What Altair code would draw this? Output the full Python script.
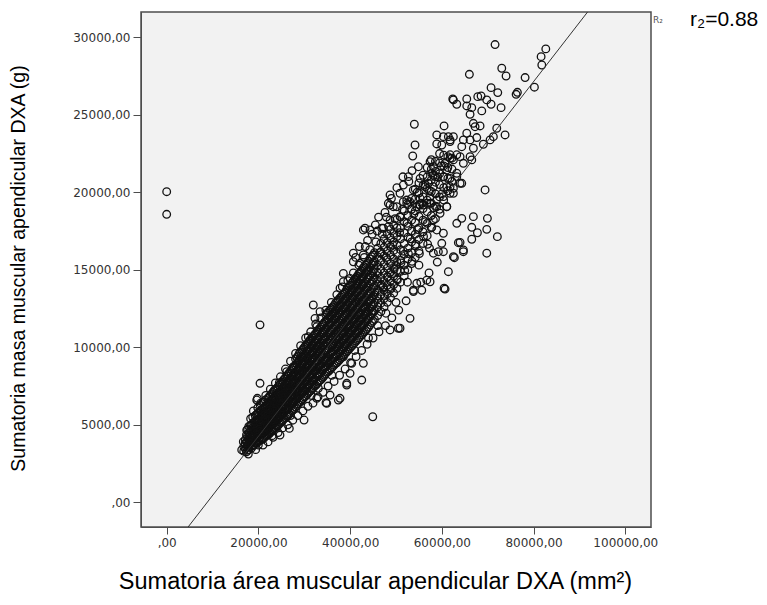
import altair as alt
import pandas as pd

# ---------------- data ----------------
# dense core of the cloud: (area mm2, [mass g ...])
core_columns = [
    (16800, [3300, 3600]),
    (17400, [3250, 3550, 3900, 4350]),
    (17900, [3400, 3750, 4100, 4500, 4900]),
    (18500, [3500, 3850, 4200, 4600, 5000]),
    (19000, [3700, 4050, 4400, 4750, 5150]),
    (19600, [3800, 4150, 4500, 4900, 5300, 5650]),
    (20100, [3950, 4300, 4650, 5000, 5400, 5800]),
    (20700, [4050, 4400, 4800, 5150, 5550, 5950]),
    (21200, [4150, 4500, 4900, 5300, 5700, 6100, 6500]),
    (21800, [4300, 4700, 5050, 5450, 5850, 6250]),
    (22300, [4400, 4800, 5200, 5600, 6000, 6400, 6800]),
    (22900, [4600, 5000, 5400, 5800, 6200, 6600, 7000]),
    (23400, [4750, 5150, 5550, 5950, 6350, 6750, 7200]),
    (24000, [4900, 5300, 5700, 6100, 6500, 6900, 7350]),
    (24500, [5050, 5450, 5850, 6300, 6700, 7100, 7550]),
    (25100, [5200, 5650, 6050, 6450, 6900, 7300, 7750]),
    (25600, [5400, 5800, 6250, 6650, 7100, 7500, 7950]),
    (26200, [5550, 6000, 6400, 6850, 7250, 7700, 8150]),
    (26700, [5700, 6150, 6600, 7000, 7450, 7900, 8350]),
    (27300, [5900, 6350, 6800, 7200, 7650, 8100, 8550]),
    (27800, [6050, 6500, 6950, 7400, 7850, 8300, 8750]),
    (28400, [6250, 6700, 7150, 7600, 8050, 8500, 8950, 9350]),
    (28900, [6450, 6900, 7350, 7800, 8250, 8700, 9150, 9600]),
    (29500, [6600, 7050, 7500, 7950, 8450, 8900, 9350, 9800]),
    (30000, [6800, 7250, 7700, 8150, 8600, 9050, 9500, 10000]),
    (30600, [6950, 7400, 7900, 8350, 8800, 9250, 9750, 10200]),
    (31100, [7150, 7600, 8050, 8500, 9000, 9450, 9900, 10400]),
    (31700, [7300, 7800, 8250, 8700, 9200, 9650, 10100, 10600]),
    (32200, [7500, 7950, 8450, 8900, 9350, 9850, 10300, 10800]),
    (32800, [7650, 8150, 8600, 9100, 9550, 10050, 10500, 11000]),
    (33300, [7850, 8300, 8800, 9250, 9750, 10200, 10700, 11200]),
    (33900, [8000, 8500, 8950, 9450, 9950, 10400, 10900, 11400]),
    (34400, [8200, 8700, 9150, 9650, 10150, 10600, 11100, 11600]),
    (35000, [8400, 8850, 9350, 9850, 10300, 10800, 11300, 11800, 12200]),
    (35600, [8550, 9050, 9550, 10000, 10500, 11000, 11500, 11950, 12400]),
    (36200, [8750, 9250, 9750, 10200, 10700, 11200, 11700, 12150, 12600]),
    (36800, [8950, 9450, 9900, 10400, 10900, 11400, 11900, 12350, 12850]),
    (37400, [9100, 9600, 10100, 10600, 11100, 11600, 12100, 12550, 13050]),
    (38000, [9300, 9800, 10300, 10800, 11300, 11800, 12300, 12750, 13250]),
    (38600, [9500, 10000, 10500, 11000, 11500, 12000, 12500, 13000, 13450]),
    (39200, [9700, 10200, 10700, 11200, 11700, 12200, 12700, 13200, 13700]),
    (39800, [9900, 10400, 10900, 11400, 11900, 12400, 12900, 13400, 13900]),
    (40400, [10100, 10600, 11100, 11650, 12150, 12650, 13150, 13650, 14150]),
    (41000, [10300, 10800, 11300, 11850, 12350, 12850, 13350, 13850, 14400]),
    (41600, [10500, 11000, 11550, 12050, 12550, 13100, 13600, 14100, 14600]),
    (42200, [10700, 11250, 11750, 12250, 12800, 13300, 13800, 14350, 14850]),
    (42800, [10900, 11450, 11950, 12500, 13000, 13500, 14050, 14550, 15100]),
    (43400, [11100, 11650, 12150, 12700, 13200, 13750, 14250, 14800, 15300]),
    (44000, [11300, 11850, 12400, 12900, 13450, 13950, 14500, 15000, 15550]),
    (44700, [11600, 12150, 12650, 13200, 13750, 14250, 14800, 15350, 15850]),
    (45300, [11800, 12350, 12900, 13400, 13950, 14500, 15050, 15550, 16100]),
    (46000, [12050, 12600, 13150, 13700, 14250, 14800, 15300, 15850, 16400]),
    (46700, [12300, 12850, 13400, 13950, 14500, 15050, 15600, 16150, 16700]),
    (47400, [12600, 13150, 13700, 14250, 14800, 15350, 15900, 16450, 17000]),
    (48100, [12900, 13450, 14000, 14550, 15100, 15650, 16200, 16750, 17300]),
    (48800, [13200, 13750, 14300, 14850, 15400, 15950, 16500, 17050, 17600]),
    (49500, [13500, 14050, 14600, 15150, 15700, 16250, 16800, 17350, 17900]),
    (50200, [13800, 14400, 14950, 15500, 16050, 16600, 17150, 17700, 18250]),
    (51000, [14200, 14900, 15600, 16300, 17000, 17700, 18400]),
    (51800, [14600, 15300, 16000, 16700, 17400, 18100, 18800]),
    (52600, [15000, 15700, 16400, 17100, 17800, 18500, 19200]),
    (53400, [15400, 16100, 16800, 17500, 18200, 18900, 19600]),
    (54200, [15800, 16550, 17300, 18050, 18800, 19550, 20200]),
    (55000, [16200, 16950, 17700, 18450, 19200, 19950, 20600]),
    (55900, [16700, 17450, 18200, 18950, 19700, 20450, 21100]),
    (56800, [17200, 18000, 18750, 19500, 20250, 21000, 21600]),
    (57700, [17700, 18500, 19300, 20050, 20800, 21500, 22100]),
    (58600, [18300, 19100, 19900, 20650, 21350, 22000]),
    (59500, [18900, 19700, 20500, 21200, 21900, 22500]),
    (60400, [19500, 20300, 21000, 21700, 22400]),
    (61300, [20100, 20900, 21600, 22300]),
    (62200, [20700, 21500, 22200]),
]

# the darkest part of the cloud holds many more overlapping points
dark_core_columns = [
    (17150, [3450, 3750, 4050]),
    (17650, [3350, 3700, 4000, 4300, 4700]),
    (18250, [3600, 3950, 4250, 4650, 4950]),
    (18750, [3650, 4000, 4350, 4700, 5100, 5500]),
    (19300, [3850, 4200, 4550, 4900, 5250, 5600]),
    (19850, [3900, 4250, 4600, 5000, 5350, 5750, 6100]),
    (20400, [4000, 4350, 4750, 5100, 5500, 5900, 6250]),
    (20950, [4100, 4500, 4850, 5250, 5650, 6050, 6450]),
    (21500, [4250, 4600, 5000, 5400, 5800, 6200, 6600]),
    (22050, [4350, 4750, 5150, 5550, 5950, 6350, 6700]),
    (22600, [4500, 4900, 5300, 5700, 6100, 6500, 6900]),
    (23150, [4650, 5050, 5450, 5850, 6250, 6650, 7100]),
    (23700, [4800, 5200, 5650, 6050, 6450, 6850, 7300]),
    (24250, [4950, 5400, 5800, 6200, 6600, 7050, 7450]),
    (24800, [5150, 5550, 5950, 6400, 6800, 7200, 7650]),
    (25350, [5300, 5750, 6150, 6550, 7000, 7400, 7850]),
    (25900, [5450, 5900, 6300, 6750, 7150, 7600, 8050]),
    (26450, [5600, 6050, 6500, 6900, 7350, 7800, 8250]),
    (27000, [5800, 6250, 6700, 7100, 7550, 8000, 8450]),
    (27550, [5950, 6400, 6850, 7300, 7750, 8200, 8650]),
    (28100, [6150, 6600, 7050, 7500, 7950, 8400, 8850, 9250]),
    (28650, [6350, 6800, 7250, 7700, 8150, 8600, 9050, 9450]),
    (29200, [6500, 6950, 7400, 7850, 8350, 8800, 9250, 9700]),
    (29750, [6700, 7150, 7600, 8050, 8500, 8950, 9450, 9900]),
    (30300, [6850, 7350, 7800, 8250, 8700, 9150, 9600, 10100]),
    (30850, [7050, 7500, 7950, 8400, 8900, 9350, 9800, 10300]),
    (31400, [7200, 7700, 8150, 8600, 9100, 9550, 10000, 10500]),
    (31950, [7400, 7850, 8350, 8800, 9250, 9750, 10200, 10700]),
    (32500, [7550, 8050, 8500, 9000, 9450, 9950, 10400, 10900]),
    (33050, [7750, 8200, 8700, 9150, 9650, 10100, 10600, 11100]),
    (33600, [7900, 8400, 8850, 9350, 9850, 10300, 10800, 11300]),
    (34150, [8100, 8600, 9050, 9550, 10050, 10500, 11000, 11500]),
    (34700, [8300, 8750, 9250, 9750, 10250, 10700, 11200, 11700, 12100]),
    (35300, [8450, 8950, 9450, 9900, 10400, 10900, 11400, 11850, 12300]),
    (35900, [8650, 9150, 9650, 10100, 10600, 11100, 11600, 12050, 12500]),
    (36500, [8850, 9350, 9800, 10300, 10800, 11300, 11800, 12250, 12700]),
    (37100, [9000, 9500, 10000, 10500, 11000, 11500, 12000, 12450, 12950]),
    (37700, [9200, 9700, 10200, 10700, 11200, 11700, 12200, 12650, 13150]),
    (38300, [9400, 9900, 10400, 10900, 11400, 11900, 12400, 12900, 13350]),
    (38900, [9600, 10100, 10600, 11100, 11600, 12100, 12600, 13100, 13550]),
    (39500, [9800, 10300, 10800, 11300, 11800, 12300, 12800, 13300, 13800]),
    (40100, [10000, 10500, 11000, 11500, 12000, 12550, 13050, 13550, 14000]),
    (40700, [10200, 10700, 11200, 11750, 12250, 12750, 13250, 13750, 14250]),
    (41300, [10400, 10900, 11450, 11950, 12450, 12950, 13500, 14000, 14500]),
    (41900, [10600, 11100, 11650, 12150, 12700, 13200, 13700, 14200, 14750]),
    (42500, [10800, 11350, 11850, 12400, 12900, 13400, 13950, 14450, 14950]),
    (43100, [11000, 11550, 12050, 12600, 13100, 13650, 14150, 14700, 15200]),
    (43700, [11200, 11750, 12300, 12800, 13350, 13850, 14400, 14900, 15400]),
    (44350, [11450, 12000, 12500, 13050, 13600, 14100, 14650, 15150, 15700]),
    (45000, [11700, 12250, 12750, 13300, 13850, 14350, 14900, 15450, 15950]),
]

# irregular points widening the band on both sides
band_spread_points = [
    (18300, 5400), (18900, 5900), (19400, 3400), (20500, 6400), (21000, 3700),
    (21600, 6900), (22100, 3900), (22600, 7300), (23200, 4200), (23700, 7700),
    (24300, 4500), (24800, 8100), (25300, 4800), (25900, 8600), (26400, 5000),
    (27000, 9100), (27500, 5300), (28100, 9600), (28600, 5600), (29200, 10100),
    (29700, 5900), (30300, 10600), (30800, 6200), (31400, 11000), (31900, 6400),
    (32500, 11500), (33000, 6800), (33600, 11900), (34100, 7100), (34700, 12400),
    (35200, 7500), (35900, 12900), (36500, 7800), (37100, 13400), (37700, 8200),
    (38300, 13900), (38900, 8600), (39500, 14300), (40100, 9000), (40700, 14800),
    (41300, 9400), (41900, 15300), (42500, 9800), (43100, 15800), (43700, 10200),
    (44300, 16300), (45000, 10600), (45600, 16800), (46300, 11000), (47000, 17300),
    (47700, 11400), (48400, 17800), (49100, 11900), (49800, 18300), (50600, 12400),
    (51400, 18900), (52200, 13000), (53000, 19400), (53800, 13600), (54600, 20000),
    (55400, 14200), (56300, 20500), (57200, 14800), (58100, 21100), (59000, 15500),
    (59900, 21700),
    (17100, 3800), (18700, 4450), (19300, 4950), (20400, 4600), (21500, 5650),
    (22700, 5100), (23600, 6050), (24800, 5900), (25800, 7350), (26500, 6600),
    (27500, 7000), (28200, 8300), (29100, 7600), (29800, 9100), (30400, 8400),
    (31300, 9700), (32000, 8700), (32600, 10300), (33500, 9600), (34200, 10900),
    (34800, 9100), (35400, 11600), (36100, 10100), (36700, 11800), (37300, 10700),
    (37900, 12700), (38400, 11300), (39000, 12500), (39700, 11000), (40300, 13700),
    (40900, 12100), (41500, 14300), (42000, 12900), (42600, 14000), (43300, 12500),
    (43900, 14900), (44500, 13500), (45200, 15300), (45800, 14400), (46500, 16100),
    (47200, 13900), (47900, 15800), (48600, 14800), (49300, 16600), (50000, 15300),
    (50800, 17400), (51600, 16200), (52400, 18000), (53100, 17000), (53900, 18600),
    (54700, 17600), (55600, 19300), (56400, 18100), (57300, 20100), (58200, 19000),
    (59100, 21000), (60000, 19900),
]

# more points filling the interior and the upper / lower flanks
interior_points = [
    (17700, 3650), (18200, 4300), (18800, 3950), (19200, 4600), (19800, 4200),
    (20300, 5200), (20900, 4550), (21400, 5450), (21900, 4950), (22500, 5950),
    (23000, 5300), (23500, 6350), (24100, 5600), (24600, 6550), (25200, 6100),
    (25700, 7050), (26300, 6350), (26900, 7250), (27400, 6650), (28000, 7650),
    (28500, 7050), (29000, 8050), (29600, 7350), (30100, 8350), (30700, 7650),
    (31200, 8750), (31800, 8050), (32300, 9150), (32900, 8350), (33400, 9450),
    (34000, 8750), (34500, 9850), (35100, 9150), (35700, 10250), (36300, 9550),
    (36900, 10650), (37500, 9850), (38100, 11050), (38700, 10250), (39300, 11450),
    (39900, 10650), (40500, 11850), (41100, 11050), (41700, 12250), (42300, 11450),
    (42900, 12650), (43500, 11850), (44100, 13050), (44800, 12350), (45400, 13550),
    (46100, 12850), (46800, 14050), (47500, 13350), (48200, 14550), (48900, 13850),
    (49600, 15050), (50300, 14350), (51100, 15450), (51900, 14950), (52700, 16050),
    (53500, 15550), (54300, 16650), (55100, 16050), (56000, 17150), (56900, 16650),
    (57800, 17750),
    (41200, 15800), (42000, 16500), (43800, 16900), (44800, 17300), (45500, 17900),
    (46200, 18400), (47600, 18700), (49000, 19600), (50200, 20300), (51500, 21000),
    (52800, 20700), (53500, 21400), (45900, 17500), (47900, 18400), (43300, 16500),
    (44000, 10600), (46000, 11400), (47800, 12200), (50000, 12900), (52500, 14200),
    (55000, 15300), (57300, 16400), (41000, 9800), (36000, 8200), (31500, 6900),
    (27000, 5600), (23000, 4300),
]

# scattered points at the upper right of the cloud
upper_points = [
    (71600, 29530), (82660, 29250), (81640, 28750), (81790, 28210), (66000, 27610),
    (73060, 28000), (74000, 27500), (78150, 27400), (80180, 26780), (76470, 26450),
    (76190, 26320), (70730, 26750), (72190, 26430), (62380, 26020), (63250, 25680),
    (65430, 26020), (65430, 25570), (67830, 26170), (68550, 26210), (69790, 25960),
    (70730, 25680), (66520, 25460), (68700, 25250), (72910, 25460), (66150, 25030),
    (66870, 24450), (67240, 24230), (68330, 24280), (60480, 24280), (71970, 24130),
    (73780, 23700), (70510, 23380), (71230, 23590), (69050, 23100), (67610, 23530),
    (65430, 23810), (58890, 23700), (58890, 23120), (61420, 23590), (62510, 23590),
    (61790, 23270), (64690, 23380), (66150, 23380), (64340, 22940), (66870, 22840),
    (63970, 22300), (66150, 22300), (61790, 22190), (60700, 21870), (64690, 21870),
    (66520, 22090), (69420, 20150), (63250, 21230), (64340, 20580), (61790, 20360),
    (62510, 19940), (62510, 25960), (54000, 24390), (59980, 23050), (60330, 23590),
    (61790, 23380), (54150, 23050), (53650, 22340), (54880, 21650), (52700, 21010),
    (61790, 22420), (63250, 22420), (62510, 22090), (57430, 21980), (58150, 21650),
    (57800, 21230), (58520, 21010), (57060, 20580), (58150, 20360), (61070, 21440),
    (60330, 21010), (61790, 20900), (63250, 21010), (61070, 20360), (62510, 20260),
    (63970, 20580), (55250, 20900), (56340, 20360), (51600, 20470), (53780, 20150),
    (55250, 19610), (57430, 19720), (58890, 19500), (60330, 19720), (61790, 19940),
]

# points below the band at the right
lower_right_points = [
    (64340, 18320), (66870, 18430), (69930, 18320), (66520, 17740), (69790, 17610),
    (67750, 17390), (72100, 17140), (66520, 16970), (63970, 16770), (63600, 16750),
    (64690, 16170), (69790, 16070), (62730, 15780), (61420, 14880), (60700, 13760),
    (61070, 19070), (59610, 18650), (60330, 16170), (57430, 14230), (63250, 18000),
    (64690, 16280), (62510, 15850), (60480, 13810), (53060, 11870), (50880, 11230),
    (48700, 11120), (53780, 13680), (55620, 13680), (56710, 14330), (54530, 14130),
    (58150, 16070), (59240, 16170), (59980, 16710), (60330, 17360), (58890, 17570),
    (58150, 18210), (50510, 11230),
]

# points along the edges of the band
edge_points = [
    (48700, 19180), (50160, 19070), (52340, 19290), (54530, 19070), (55960, 19180),
    (57430, 19290), (58890, 19070), (61070, 19070), (48330, 19290), (49420, 19070),
    (51600, 19390), (55250, 19180), (56710, 19290), (48700, 19830), (50880, 19940),
    (52340, 19500), (43250, 17680), (44340, 17570), (46890, 17680), (48700, 18210),
    (50880, 18430), (47240, 17680), (42880, 17570), (40700, 16070), (40700, 15520),
    (42160, 15420), (42880, 15960), (38520, 14770), (39980, 14450), (38520, 14230),
    (42160, 14770), (37800, 13810), (31970, 12730), (33440, 12300), (32340, 11870),
    (32720, 11330), (30880, 10680), (31250, 10470), (29440, 9290), (27610, 8750),
    (26170, 8430), (20350, 7680), (19760, 6710), (24560, 7720), (19630, 6600),
    (16360, 3380), (16710, 3910), (17450, 4660), (17800, 3120), (19980, 3700),
    (24710, 4340), (26740, 4770), (29950, 5310), (37800, 6710), (34740, 6430),
    (35620, 6920), (32720, 6710), (33070, 7360), (34900, 6390), (37430, 6600),
    (39260, 7570), (42530, 7890), (39980, 8320), (40350, 8970), (42880, 8970),
    (38520, 9390), (39260, 7680),
]

outlier_points = [(0, 20040), (0, 18580), (20350, 11450), (44930, 5520)]

# fitted line (read from where it crosses the frame)
line_intercept = -3371
line_slope = 0.3814

x_ticks = [0, 20000, 40000, 60000, 80000, 100000]
y_ticks = [0, 5000, 10000, 15000, 20000, 25000, 30000]
x_domain = [-5600, 105600]
y_domain = [-1590, 31630]

x_title = "Sumatoria área muscular apendicular DXA (mm²)"
y_title = "Sumatoria masa muscular apendicular DXA (g)"
r2_text = "r₂=0.88"
r2_small = "R₂"

# ---------------- build tables ----------------
rows = []
for a, ms in core_columns + dark_core_columns:
    for m in ms:
        rows.append((a, m))
rows += (band_spread_points + interior_points + upper_points
         + lower_right_points + edge_points + outlier_points)
pts = pd.DataFrame(rows, columns=["area", "mass"])

line_df = pd.DataFrame({"area": x_domain})
line_df["mass"] = line_intercept + line_slope * line_df["area"]

xs = alt.Scale(domain=x_domain, nice=False, zero=False)
ys = alt.Scale(domain=y_domain, nice=False, zero=False)

W, H = 510, 515
LEFT, TOP = 141, 12

label_expr = "datum.value == 0 ? ',00' : datum.value + ',00'"

x_axis = alt.Axis(
    values=x_ticks, labelExpr=label_expr, grid=False,
    tickSize=7, labelPadding=3, tickColor="#4d4d4d", domainColor="#4d4d4d",
    labelFont="DejaVu Sans", labelFontSize=12, labelColor="#333333",
    title=x_title, titleFont="Liberation Sans", titleFontSize=23.5,
    titleFontWeight="normal", titleColor="#000000",
    titleX=375 - LEFT, titleY=588 - (TOP + H), titleAlign="center",
    titleBaseline="alphabetic",
)
y_axis = alt.Axis(
    values=y_ticks, labelExpr=label_expr, grid=False,
    tickSize=8, labelPadding=3, tickColor="#4d4d4d", domainColor="#4d4d4d",
    labelFont="DejaVu Sans", labelFontSize=12, labelColor="#333333",
    title=y_title, titleFont="Liberation Sans", titleFontSize=19.5,
    titleFontWeight="normal", titleColor="#000000", titleAngle=270,
    titleX=18 - LEFT, titleY=268 - TOP, titleAlign="center",
    titleBaseline="middle",
)

points = alt.Chart(pts).mark_point(
    shape="circle", filled=False, size=58, strokeWidth=1.3,
    color="#111111", opacity=1, clip=True,
).encode(
    x=alt.X("area:Q", scale=xs, axis=x_axis),
    y=alt.Y("mass:Q", scale=ys, axis=y_axis),
)

line = alt.Chart(line_df).mark_line(color="#333333", strokeWidth=1, clip=True).encode(
    x=alt.X("area:Q", scale=xs),
    y=alt.Y("mass:Q", scale=ys),
)

r2 = alt.Chart(pd.DataFrame({"t": [r2_text]})).mark_text(
    font="Liberation Sans", fontSize=21, align="left", baseline="alphabetic", color="#000000"
).encode(x=alt.value(690 - LEFT), y=alt.value(26 - TOP), text="t:N")

r2s = alt.Chart(pd.DataFrame({"t": [r2_small]})).mark_text(
    font="DejaVu Sans", fontSize=9, align="left", baseline="alphabetic", color="#555555"
).encode(x=alt.value(653 - LEFT), y=alt.value(23 - TOP), text="t:N")

chart = alt.layer(points, line, r2, r2s).properties(
    width=W, height=H,
    autosize=alt.AutoSizeParams(type="none"),
    padding={"left": LEFT, "top": TOP, "right": 767 - LEFT - W, "bottom": 605 - TOP - H},
    background="#ffffff",
).configure_view(stroke="#4d4d4d", strokeWidth=1.5, fill="#f2f2f2")

chart.save("out.html", embed_options={"renderer": "svg", "actions": False})
